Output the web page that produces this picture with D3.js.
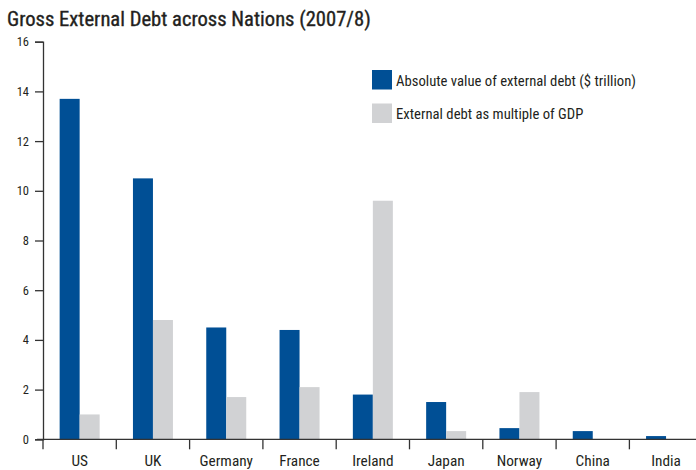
<!DOCTYPE html>
<html>
<head>
<meta charset="utf-8">
<script src="https://cdn.jsdelivr.net/npm/d3@7"></script>
<style>
  body { margin: 0; background: #fff; }
  text { font-family: "Roboto Condensed", "Liberation Sans", sans-serif; fill: #231f20; }
</style>
</head>
<body>
<div id="chart"></div>
<script>
// chart data
const countries = ["US", "UK", "Germany", "France", "Ireland", "Japan", "Norway", "China", "India"];
const absoluteDebt = [13.7, 10.5, 4.5, 4.4, 1.8, 1.5, 0.45, 0.33, 0.13];
const debtToGdp = [1.0, 4.8, 1.7, 2.1, 9.6, 0.33, 1.9, 0, 0];
const seriesNames = ["Absolute value of external debt ($ trillion)", "External debt as multiple of GDP"];
const seriesColors = ["#004f95", "#d1d2d4"];
const yTicks = [0, 2, 4, 6, 8, 10, 12, 14, 16];

const width = 696, height = 470;
const plot = {left: 43, top: 41.7, bottom: 439.3};

const svg = d3.select("#chart")
    .append("svg")
    .attr("width", width)
    .attr("height", height);

// title
svg.append("text")
    .attr("x", 7)
    .attr("y", 26)
    .attr("font-size", "20.6px")
    .attr("stroke", "#231f20")
    .attr("stroke-width", 0.35)
    .text("Gross External Debt across Nations (2007/8)");

const x = d3.scaleBand()
    .domain(countries)
    .range([plot.left, plot.left + 73.3 * countries.length])
    .padding(0);

const xSub = d3.scaleBand()
    .domain([0, 1])
    .range([x.bandwidth() / 2 - 20, x.bandwidth() / 2 + 20]);

const y = d3.scaleLinear()
    .domain([0, 16])
    .range([plot.bottom, plot.top]);

// bars
const groups = svg.selectAll(".country")
    .data(countries)
    .enter()
    .append("g")
    .attr("transform", d => `translate(${x(d)},0)`);

groups.selectAll("rect")
    .data((d, i) => [absoluteDebt[i], debtToGdp[i]])
    .enter()
    .append("rect")
    .attr("x", (d, j) => xSub(j))
    .attr("y", d => y(d))
    .attr("width", xSub.bandwidth())
    .attr("height", d => y(0) - y(d))
    .attr("fill", (d, j) => seriesColors[j]);

// y axis
const yAxis = svg.append("g")
    .attr("transform", `translate(${plot.left},0)`)
    .call(d3.axisLeft(y).tickValues(yTicks).tickSize(8).tickPadding(6));
yAxis.selectAll("path, line").attr("stroke", "#333").attr("stroke-width", 1.3);
yAxis.selectAll("text").attr("font-size", "12.5px").attr("fill", "#333")
    .style("font-family", "'Roboto Condensed', 'Liberation Sans', sans-serif");

// x axis line
svg.append("line")
    .attr("x1", plot.left - 6)
    .attr("x2", width)
    .attr("y1", y(0))
    .attr("y2", y(0))
    .attr("stroke", "#333")
    .attr("stroke-width", 1.3);

// boundary ticks
svg.selectAll(".btick")
    .data(countries)
    .enter()
    .append("line")
    .attr("x1", d => x(d))
    .attr("x2", d => x(d))
    .attr("y1", y(0))
    .attr("y2", y(0) + 10)
    .attr("stroke", "#333")
    .attr("stroke-width", 1.3);

// category labels
svg.selectAll(".xlabel")
    .data(countries)
    .enter()
    .append("text")
    .attr("x", d => x(d) + x.bandwidth() / 2)
    .attr("y", 466)
    .attr("text-anchor", "middle")
    .attr("font-size", "15.3px")
    .text(d => d);

// legend
const legend = svg.selectAll(".legend")
    .data(seriesNames)
    .enter()
    .append("g")
    .attr("transform", (d, i) => `translate(372,${70 + i * 33.5})`);

legend.append("rect")
    .attr("width", 20)
    .attr("height", 19.5)
    .attr("fill", (d, i) => seriesColors[i]);

legend.append("text")
    .attr("x", 24)
    .attr("y", 15.5)
    .attr("font-size", "14.7px")
    .text(d => d);
</script>
</body>
</html>
